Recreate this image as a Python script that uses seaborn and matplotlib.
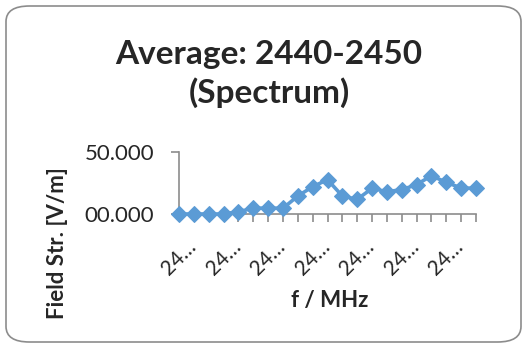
import matplotlib
matplotlib.use("Agg")
import matplotlib.pyplot as plt
from matplotlib.patches import FancyBboxPatch
import seaborn as sns
import pandas as pd

# Frequency bins (MHz) and averaged field strength (V/m)
freqs = [2440.0, 2440.5, 2441.0, 2441.5, 2442.0, 2442.5, 2443.0, 2443.5,
         2444.0, 2444.5, 2445.0, 2445.5, 2446.0, 2446.5, 2447.0, 2447.5,
         2448.0, 2448.5, 2449.0, 2449.5, 2450.0]
field = [0.0, 0.0, 0.0, 0.0, 1.9, 4.6, 4.8, 4.6, 14.5, 22.0, 27.7,
         14.5, 11.8, 20.7, 18.0, 19.6, 23.7, 30.9, 25.5, 21.0, 20.7]
y_ticks = [0, 50]
y_tick_labels = ["00.000", "50.000"]

title = "Average: 2440-2450\n(Spectrum)"
x_title = "f / MHz"
y_title = "Field Str. [V/m]"

df = pd.DataFrame({"idx": range(len(freqs)), "freq": freqs, "field": field})

sns.set_theme(style="white")
plt.rcParams["font.family"] = ["Lato", "DejaVu Sans"]

fig = plt.figure(figsize=(5.24, 3.45), dpi=100)
fig.patch.set_facecolor("white")

# rounded chart-area border
border = FancyBboxPatch((6 / 524, 3 / 345), 515 / 524, 336 / 345,
                        boxstyle="round,pad=0,rounding_size=0.045",
                        transform=fig.transFigure, facecolor="none",
                        edgecolor="#8c8c8c", linewidth=1.2, zorder=0)
fig.patches.append(border)

ax = fig.add_axes([179 / 524, 1 - 214 / 345, 297 / 524, 62 / 345])
sns.lineplot(data=df, x="idx", y="field", ax=ax, color="#5B9BD5",
             linewidth=2.6, marker="D", markersize=8.5,
             markeredgecolor="#5B9BD5", clip_on=False, zorder=3)

ax.set_xlim(0, len(freqs) - 1)
ax.set_ylim(0, 50)
ax.set_facecolor("none")

for s in ["top", "right"]:
    ax.spines[s].set_visible(False)
for s in ["left", "bottom"]:
    ax.spines[s].set_color("#8c8c8c")
    ax.spines[s].set_linewidth(1.2)

# category ticks on every bin, labels on every third (truncated like the source)
ax.set_xticks(range(len(freqs)))
labels = [(str(f)[:2] + "\u2026") if i % 3 == 0 else "" for i, f in enumerate(freqs)]
ax.set_xticklabels(labels, rotation=45, ha="center", va="top", fontsize=15)
ax.set_yticks(y_ticks)
ax.set_yticklabels(y_tick_labels, fontsize=16)
ax.tick_params(axis="x", length=6, width=1.2, color="#8c8c8c", pad=10,
               bottom=True, direction="out")
ax.tick_params(axis="y", length=6, width=1.2, color="#8c8c8c", pad=12,
               left=True, direction="out")

ax.set_xlabel("")
ax.set_ylabel("")
fig.text(330 / 524, 1 - 300 / 345, x_title, fontsize=16, fontweight="bold",
         ha="center", va="center")
fig.text(57 / 524, 1 - 243 / 345, y_title, rotation=90, fontsize=16,
         fontweight="bold", ha="center", va="center")

fig.text(269 / 524, 1 - 74 / 345, title, fontsize=24, fontweight="bold",
         ha="center", va="center", linespacing=1.3)

fig.savefig("out.png", dpi=100)
